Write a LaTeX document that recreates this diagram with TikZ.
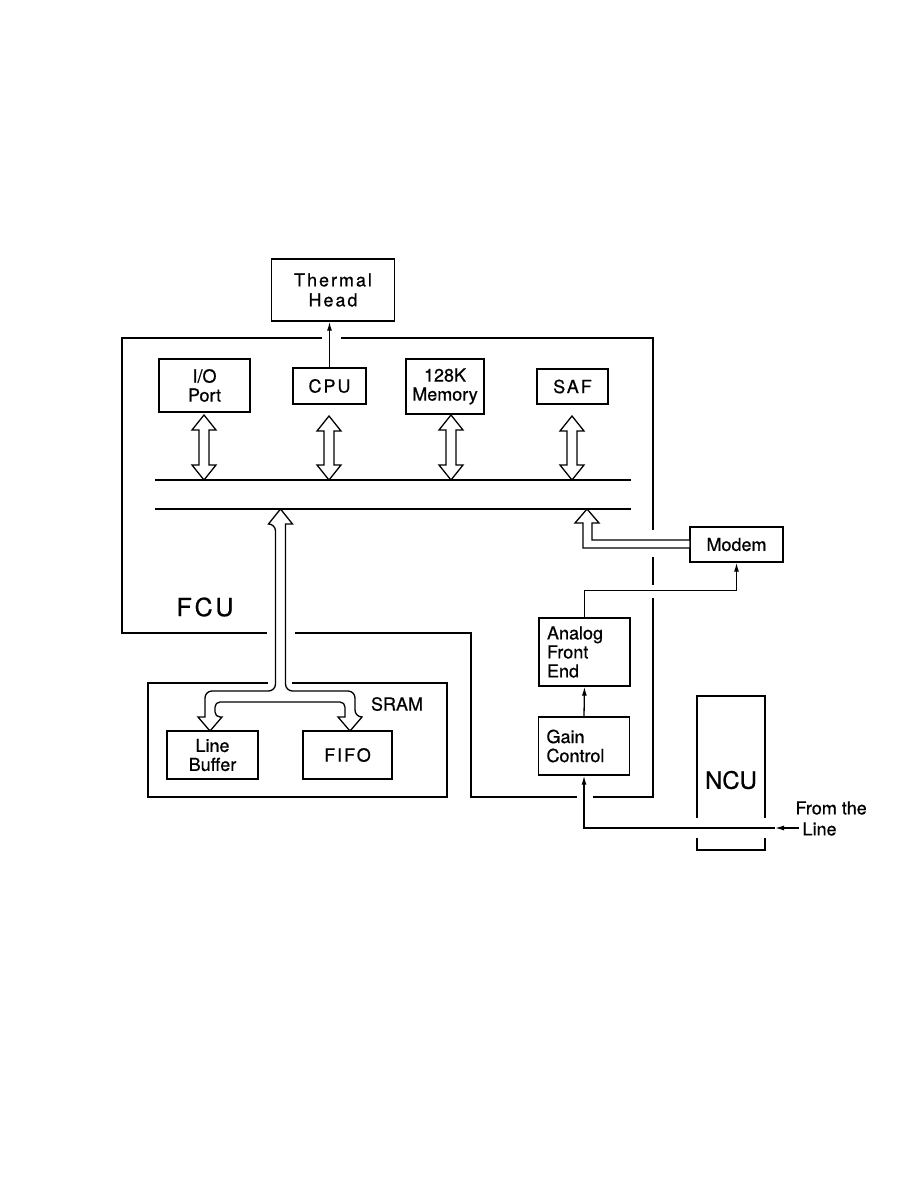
\documentclass[tikz,border=0pt]{standalone}
\usepackage{fontspec}
\setmainfont[FakeBold=0.6]{TeX Gyre Heros}
\newfontfamily\widefont[LetterSpace=11,FakeBold=0.6]{TeX Gyre Heros}
\usetikzlibrary{arrows.meta, positioning}

% hollow two-headed bus arrow: x, top tip, bottom tip
\newcommand{\busarrow}[3]{%
  \draw[hollow] (#1,#2) -- ({#1+12},{#2+15}) -- ({#1+5},{#2+15}) -- ({#1+5},{#3-15})
    -- ({#1+12},{#3-15}) -- (#1,#3) -- ({#1-12},{#3-15}) -- ({#1-5},{#3-15})
    -- ({#1-5},{#2+15}) -- ({#1-12},{#2+15}) -- cycle;}

\begin{document}
\begin{tikzpicture}[x=1pt, y=-1pt,
  box/.style={rectangle, draw, line width=1.4pt, inner sep=2pt, align=center,
              font=\fontsize{18}{19}\selectfont},
  widebox/.style={box, font=\fontsize{18}{20}\selectfont\widefont},
  lbox/.style={box, align=left, text width=75pt, inner xsep=8pt},
  frame/.style={line width=2.3pt},
  outline/.style={line width=1.4pt},
  bus/.style={line width=1.3pt},
  hollow/.style={draw, line width=1.3pt, fill=white, line join=miter},
  wire/.style={line width=1.3pt},
  arrow/.style={wire, -{Latex[length=9pt,width=5pt]}}]
\useasboundingbox (0,0) rectangle (918,1188);
\fill[white] (0,0) rectangle (918,1188);

% FCU boxes
\node[widebox, minimum width=123, minimum height=62] (thermal) at (333,290) {Thermal\\Head};
\node[box, minimum width=91, minimum height=53] (io)  at (204.5,385.5) {I/O\\Port};
\node[widebox, minimum width=73, minimum height=36] (cpu) at (329.5,386) {CPU};
\node[box, minimum width=78, minimum height=55] (mem) at (445,386.5) {128K\\Memory};
\node[widebox, minimum width=71, minimum height=35] (saf) at (572.5,386.5) {SAF};
\node[font=\fontsize{25}{27}\selectfont\widefont] (fcu) at (205,607) {FCU};

% SRAM
\node[box, minimum width=91, minimum height=48] (lbuf) at (212.5,755) {Line\\Buffer};
\node[widebox, minimum width=89, minimum height=48] (fifo) at (347.5,755) {FIFO};
\node[font=\fontsize{18}{19}\selectfont] (sram) at (397,704) {SRAM};

% modem side
\node[box, minimum width=93, minimum height=35] (modem) at (736.5,544.5) {Modem};
\node[lbox, minimum height=68] (afe) at (584.5,652) {Analog\\Front\\End};
\node[lbox, minimum height=58] (gain) at (584,746) {Gain\\Control};
\node[font=\fontsize{24}{26}\selectfont] (ncu) at (731,780) {NCU};
\node[font=\fontsize{18}{19}\selectfont, anchor=west] (src1) at (792,808) {From the};
\node[font=\fontsize{18}{19}\selectfont, anchor=west] (src2) at (799,829) {Line};

% outlines
\draw[frame] (322,338) -- (122,338) -- (122,633) -- (267,633);
\draw[frame] (341,338) -- (653,338) -- (653,530);
\draw[frame] (653,557) -- (653,585);
\draw[frame] (295,633) -- (471,633) -- (471,797) -- (577,797);
\draw[frame] (593,797) -- (653,797) -- (653,598);
\draw[outline] (268,683) -- (148,683) -- (148,797) -- (447,797) -- (447,683) -- (292,683);
\draw[outline] (697,818) -- (697,696) -- (765,696) -- (765,818);
\draw[outline] (697,838) -- (697,850) -- (765,850) -- (765,838);

% bus
\coordinate (bus1w) at (155,480);
\coordinate (bus1e) at (631,480);
\coordinate (bus2w) at (155,509);
\coordinate (bus2e) at (631,509);
\draw[bus] (bus1w) -- (bus1e);
\draw[bus] (bus2w) -- (bus2e);

\busarrow{204}{415}{480}
\busarrow{329}{416}{480}
\busarrow{451}{415}{480}
\busarrow{572}{416}{480}

% bus to SRAM
\draw[hollow] (280.5,509) -- (292.5,524) -- (285.5,524)
  [rounded corners=7pt] -- (285.5,691) -- (355,691) -- (355,717) [sharp corners]
  -- (362,717) -- (350,731) -- (338,717) -- (345,717)
  [rounded corners=5pt] -- (345,702) -- (215,702) -- (215,717) [sharp corners]
  -- (222,717) -- (210,731) -- (198,717) -- (205,717)
  [rounded corners=7pt] -- (205,691) -- (275.5,691) -- (275.5,524) [sharp corners]
  -- (268.5,524) -- cycle;

% modem to bus
\draw[hollow] (587,509) -- (599,523) -- (592,523) -- (592,540) -- (690,540)
  -- (690,548) -- (583,548) -- (583,523) -- (575,523) -- cycle;

% signal lines
\draw[arrow] (cpu.north) -- (cpu.north |- thermal.south);
\draw[arrow] (gain.north) -- (afe.south);
\draw[arrow] (afe.north) -- ++(0,-27) -| (modem.south);
\coordinate (tapin) at (775,828);
\draw[arrow] (src2.west |- tapin) -- (tapin);
\draw[arrow] (tapin) -- (gain.south |- tapin) -- (gain.south);
\end{tikzpicture}
\end{document}
